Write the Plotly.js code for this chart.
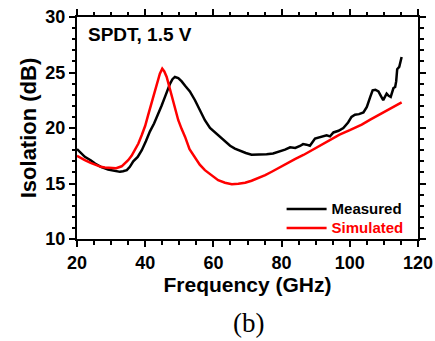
<!DOCTYPE html>
<html>
<head>
<meta charset="utf-8">
<script src="https://cdn.plot.ly/plotly-3.0.1.min.js"></script>
<style>
html,body{margin:0;padding:0;background:#fff;}
#chart{width:435px;height:341px;}
</style>
</head>
<body>
<div id="chart"></div>
<script>
// Measured isolation (black)
const measFreq = [20, 21, 22.3, 24, 25.3, 27, 29.1, 31, 32.6, 33.5, 34.6, 35.5, 36.5, 37.8, 39, 40.2, 41.4, 42.6, 43.8, 44.8, 45.8, 46.5, 47.3, 48, 48.7, 49.7, 50.7, 51.7, 53.1, 54.6, 56.3, 57.5, 59, 60.5, 61.9, 63.4, 64.9, 66.3, 67.8, 69.5, 71.2, 73.5, 75.6, 77.5, 79.5, 81, 82.5, 84, 85.4, 86.3, 87.3, 88.3, 89.8, 91.5, 93.2, 94.2, 95.2, 96.7, 98.1, 99.5, 100.5, 101.5, 102.7, 104, 105, 106, 106.7, 107.5, 108.4, 109.1, 109.8, 110.3, 110.8, 111.4, 112, 112.8, 113.3, 113.6, 113.9, 114.5, 115.2];
const measIso = [18.1, 17.8, 17.4, 17.1, 16.8, 16.5, 16.25, 16.15, 16.05, 16.1, 16.2, 16.5, 17.0, 17.4, 18.0, 18.8, 19.7, 20.4, 21.2, 22.0, 22.8, 23.4, 24.0, 24.4, 24.6, 24.5, 24.2, 23.8, 23.3, 22.5, 21.5, 20.7, 20.0, 19.6, 19.2, 18.8, 18.4, 18.15, 17.95, 17.75, 17.6, 17.6, 17.63, 17.7, 17.87, 18.05, 18.26, 18.2, 18.38, 18.55, 18.5, 18.4, 19.05, 19.2, 19.35, 19.25, 19.6, 19.75, 20.0, 20.5, 21.0, 21.2, 21.25, 21.4, 21.9, 22.8, 23.4, 23.45, 23.3, 22.9, 22.5, 22.8, 23.1, 22.9, 22.8, 23.6, 23.7, 24.2, 25.3, 25.5, 26.4];

// Simulated isolation (red)
const simFreq = [20, 21, 22.3, 24, 25.3, 27, 28.2, 30, 31.5, 33.1, 34, 35, 36, 37, 38, 39, 40, 40.9, 42, 42.9, 43.6, 44.3, 45, 45.6, 46.3, 47, 47.8, 48.7, 49.7, 50.7, 51.7, 53, 54.6, 56, 57.5, 59.5, 61.4, 63.4, 65.4, 67.3, 69.3, 71.2, 73.2, 75.2, 77.1, 79, 81, 83.9, 86.4, 90, 93.7, 97, 100, 103.5, 106, 108.4, 111, 113, 115.2];
const simIso = [17.5, 17.3, 17.1, 16.85, 16.67, 16.5, 16.45, 16.38, 16.38, 16.55, 16.8, 17.1, 17.5, 18.0, 18.6, 19.37, 20.2, 21.2, 22.4, 23.4, 24.2, 24.9, 25.35, 25.1, 24.6, 23.8, 22.8, 21.7, 20.7, 19.9, 19.2, 18.1, 17.4, 16.7, 16.2, 15.7, 15.3, 15.07, 14.93, 14.98, 15.07, 15.25, 15.47, 15.75, 16.06, 16.4, 16.75, 17.2, 17.57, 18.2, 18.85, 19.4, 19.8, 20.3, 20.75, 21.17, 21.6, 21.95, 22.3];

const seriesNames = ['Measured', 'Simulated'];
const xTicks = [20, 40, 60, 80, 100, 120];
const yTicks = [10, 15, 20, 25, 30];
const xRange = [20, 120];
const yRange = [10, 30];

const sans = 'Liberation Sans, Arial, sans-serif';

const traces = [
  {x: measFreq, y: measIso, type: 'scatter', mode: 'lines',
   name: '<span style="font-size:15px">' + seriesNames[0] + '</span>',
   line: {color: '#000000', width: 2.5}},
  {x: simFreq, y: simIso, type: 'scatter', mode: 'lines',
   name: '<span style="color:#ff0000;font-size:15px">' + seriesNames[1] + '</span>',
   line: {color: '#ff0000', width: 2.5}},
  {x: [], y: [], xaxis: 'x2', yaxis: 'y2', type: 'scatter', mode: 'lines',
   showlegend: false, hoverinfo: 'skip'}
];

const tickStyle = {
  showgrid: false, zeroline: false,
  showline: true, linecolor: '#000', linewidth: 2,
  ticks: 'outside', ticklen: 6, tickwidth: 2, tickcolor: '#000',
  tickfont: {family: sans, size: 18, color: '#000', weight: 'bold'}
};
const xMinor = {dtick: 5, ticklen: 3.5, tickwidth: 2, tickcolor: '#000', ticks: 'outside'};
const yMinor = {dtick: 1, ticklen: 3.5, tickwidth: 2, tickcolor: '#000', ticks: 'outside'};

const layout = {
  width: 435, height: 341,
  margin: {l: 77, r: 17, t: 17, b: 102},
  paper_bgcolor: '#fff', plot_bgcolor: '#fff',
  showlegend: true,
  legend: {x: 0.6, y: 0.2, xanchor: 'left', yanchor: 'top', bgcolor: 'rgba(0,0,0,0)',
    font: {family: sans, size: 12, color: '#000', weight: 'bold'},
    tracegroupgap: 0, itemwidth: 40},
  xaxis: Object.assign({}, tickStyle, {
    range: xRange, tickvals: xTicks, ticktext: xTicks.map(String), minor: xMinor,
    title: {text: 'Frequency (GHz)', font: {family: sans, size: 21, color: '#000', weight: 'bold'}, standoff: 6}
  }),
  yaxis: Object.assign({}, tickStyle, {
    range: yRange, tickvals: yTicks, ticktext: yTicks.map(String), minor: yMinor,
    title: {text: 'Isolation (dB)', font: {family: sans, size: 22, color: '#000', weight: 'bold'}, standoff: 3}
  }),
  xaxis2: Object.assign({}, tickStyle, {
    overlaying: 'x', side: 'top', anchor: 'y2', range: xRange, tickvals: xTicks,
    showticklabels: false, minor: xMinor
  }),
  yaxis2: Object.assign({}, tickStyle, {
    overlaying: 'y', side: 'right', anchor: 'x2', range: yRange, tickvals: yTicks,
    showticklabels: false, minor: yMinor
  }),
  annotations: [
    {text: 'SPDT, 1.5 V', xref: 'paper', yref: 'paper', x: 0.025, y: 0.923, xanchor: 'left', yanchor: 'middle',
     showarrow: false, font: {family: sans, size: 19, color: '#000', weight: 'bold'}},
    {text: '(b)', xref: 'paper', yref: 'paper', x: (248 - 77) / 341, y: -0.378, xanchor: 'center', yanchor: 'middle',
     showarrow: false, font: {family: 'Liberation Serif, Times New Roman, serif', size: 27, color: '#000'}}
  ]
};

Plotly.newPlot('chart', traces, layout, {displayModeBar: false, staticPlot: true});
</script>
</body>
</html>
